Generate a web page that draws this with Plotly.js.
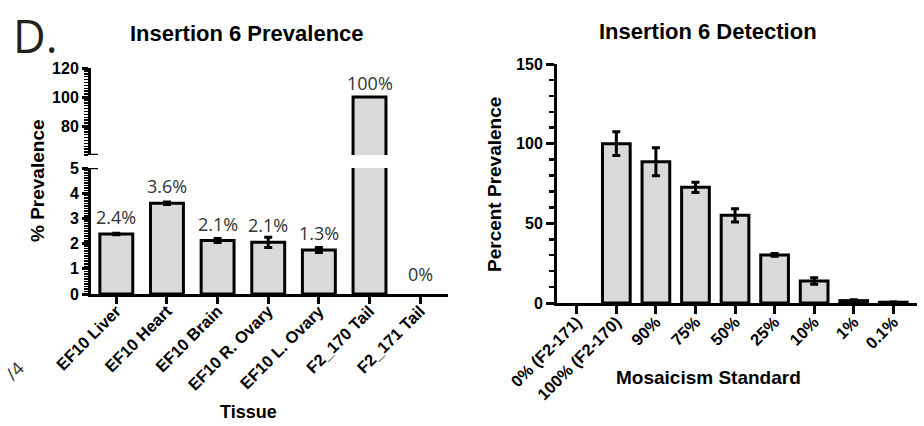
<!DOCTYPE html>
<html>
<head>
<meta charset="utf-8">
<script src="https://cdn.plot.ly/plotly-3.0.1.min.js"></script>
<style>html,body{margin:0;padding:0;background:#fff;}#chart{width:924px;height:426px;}</style>
</head>
<body>
<div id="chart"></div>
<script>
// ---- Data: Insertion 6 Prevalence ----
const tissues = ["EF10 Liver", "EF10 Heart", "EF10 Brain", "EF10 R. Ovary", "EF10 L. Ovary", "F2_170 Tail", "F2_171 Tail"];
const prevalence = [2.38, 3.6, 2.12, 2.05, 1.75, 100, 0];
const prevalenceErr = [0.03, 0.05, 0.08, 0.2, 0.1, 0, 0];
const prevalenceLabels = ["2.4%", "3.6%", "2.1%", "2.1%", "1.3%", "100%", "0%"];

// ---- Data: Insertion 6 Detection ----
const standards = ["0% (F2-171)", "100% (F2-170)", "90%", "75%", "50%", "25%", "10%", "1%", "0.1%"];
const detection = [0, 100, 88.7, 72.6, 55, 30.2, 13.8, 1.5, 0.5];
const detectionErr = [0, 7.5, 8.8, 3.2, 4.2, 0.8, 2.0, 0.5, 0.2];

const W = 924, H = 426;
const px = x => x / W;
const py = y => 1 - y / H;

const barFill = "#d8d9db";
const bold = "Liberation Sans, Arial, sans-serif";
const tickFont = {family: bold, size: 16, color: "#000", weight: 700};
const xTickFont = {family: bold, size: 16.5, color: "#000", weight: 700};

const BREAK = 60; // upper segment start
const outline = arr => arr.map(v => (v === 0 ? 0 : 3));
const barColor = arr => arr.map(v => (v === 0 ? "rgba(0,0,0,0)" : barFill));
const errOf = (vals, errs) => errs.map((e, i) => (vals[i] === 0 ? NaN : e));

const traces = [
  { type: "bar", x: tissues, y: prevalence, xaxis: "x", yaxis: "y",
    marker: {color: barColor(prevalence), line: {color: "#000", width: outline(prevalence)}},
    error_y: {type: "data", array: errOf(prevalence, prevalenceErr), visible: true, color: "#000", thickness: 3, width: 4},
    width: 0.65, hoverinfo: "skip" },
  { type: "bar", x: tissues, y: prevalence, xaxis: "x", yaxis: "y2",
    marker: {color: barColor(prevalence), line: {color: "#000", width: outline(prevalence)}},
    width: 0.65, hoverinfo: "skip" },
  { type: "bar", x: standards, y: detection, xaxis: "x2", yaxis: "y3",
    marker: {color: barColor(detection), line: {color: "#000", width: outline(detection)}},
    error_y: {type: "data", array: errOf(detection, detectionErr), visible: true, color: "#000", thickness: 3, width: 4},
    width: 0.7, hoverinfo: "skip" }
];

const labelFont = {family: "Open Sans, Noto Sans, sans-serif", size: 18, color: "#333"};
const annotations = tissues.map((t, i) => ({
  x: t, y: prevalence[i],
  xref: "x", yref: prevalence[i] > 5 ? "y2" : "y",
  text: prevalenceLabels[i], showarrow: false, yanchor: "bottom",
  yshift: prevalence[i] > 5 ? 0 : (prevalence[i] === 0 ? 6 : 3),
  font: labelFont
}));

annotations.push(
  {xref: "paper", yref: "paper", x: px(11), y: py(3), xanchor: "left", yanchor: "top",
   text: "D.", showarrow: false, font: {family: "Open Sans, sans-serif", size: 45, color: "#231f20"}},
  {xref: "paper", yref: "paper", x: px(247), y: py(33), xanchor: "center", yanchor: "middle",
   text: "Insertion 6 Prevalence", showarrow: false, font: {family: bold, size: 22, color: "#000", weight: 700}},
  {xref: "paper", yref: "paper", x: px(708), y: py(31), xanchor: "center", yanchor: "middle",
   text: "Insertion 6 Detection", showarrow: false, font: {family: bold, size: 22, color: "#000", weight: 700}},
  {xref: "paper", yref: "paper", x: px(37), y: py(181), xanchor: "center", yanchor: "middle", textangle: -90,
   text: "% Prevalence", showarrow: false, font: {family: bold, size: 19, color: "#000", weight: 700}},
  {xref: "paper", yref: "paper", x: px(248), y: py(412), xanchor: "center", yanchor: "middle",
   text: "Tissue", showarrow: false, font: {family: bold, size: 18, color: "#000", weight: 700}},
  {xref: "paper", yref: "paper", x: px(495), y: py(185), xanchor: "center", yanchor: "middle", textangle: -90,
   text: "Percent Prevalence", showarrow: false, font: {family: bold, size: 19, color: "#000", weight: 700}},
  {xref: "paper", yref: "paper", x: px(708), y: py(377), xanchor: "center", yanchor: "middle",
   text: "Mosaicism Standard", showarrow: false, font: {family: bold, size: 19, color: "#000", weight: 700}},
  {xref: "paper", yref: "paper", x: px(14), y: py(371), xanchor: "center", yanchor: "middle", textangle: -45,
   text: "/4", showarrow: false, font: {family: "Open Sans, sans-serif", size: 18, color: "#333"}}
);

const shapes = [
  {type: "line", xref: "paper", yref: "y2", x0: px(86), x1: px(98), y0: BREAK, y1: BREAK, line: {color: "#000", width: 2.5}},
  {type: "line", xref: "paper", yref: "y", x0: px(86), x1: px(98), y0: 5, y1: 5, line: {color: "#000", width: 2.5}}
];

const axisCommon = {showline: true, linecolor: "#000", linewidth: 3, showgrid: false, zeroline: false,
  ticks: "outside", tickcolor: "#000", tickwidth: 3, fixedrange: true};

const layout = {
  width: W, height: H, margin: {l: 0, r: 0, t: 0, b: 0},
  paper_bgcolor: "#fff", plot_bgcolor: "rgba(0,0,0,0)", showlegend: false,
  xaxis: Object.assign({}, axisCommon, {domain: [px(91), px(448)], anchor: "y", range: [-0.5, 6.55],
    type: "category", tickangle: -45, ticklen: 7, tickfont: xTickFont, ticklabelstandoff: -9}),
  yaxis: Object.assign({}, axisCommon, {domain: [py(294), py(168)], anchor: "x", range: [0, 5],
    tickvals: [0, 1, 2, 3, 4, 5], ticklen: 6, tickfont: tickFont,
    minor: {dtick: 0.1, ticklen: 4, tickwidth: 1.5, tickcolor: "#000", ticks: "outside", showgrid: false}}),
  yaxis2: Object.assign({}, axisCommon, {domain: [py(155), py(68)], anchor: "x", range: [BREAK, 120],
    tickvals: [80, 100, 120], ticklen: 6, tickfont: tickFont,
    minor: {dtick: 2, ticklen: 4, tickwidth: 1.5, tickcolor: "#000", ticks: "outside", showgrid: false}}),
  xaxis2: Object.assign({}, axisCommon, {domain: [px(557), px(917)], anchor: "y3", range: [-0.5, 8.6],
    type: "category", tickangle: -45, ticklen: 8, tickfont: xTickFont, ticklabelstandoff: -8}),
  yaxis3: Object.assign({}, axisCommon, {domain: [py(303), py(64)], anchor: "x2", range: [0, 150],
    tickvals: [0, 50, 100, 150], ticklen: 8, tickfont: tickFont,
    minor: {dtick: 10, ticklen: 5, tickwidth: 2.5, tickcolor: "#000", ticks: "outside", showgrid: false}}),
  annotations: annotations, shapes: shapes
};

Plotly.newPlot("chart", traces, layout, {displayModeBar: false, staticPlot: true});
</script>
</body>
</html>
